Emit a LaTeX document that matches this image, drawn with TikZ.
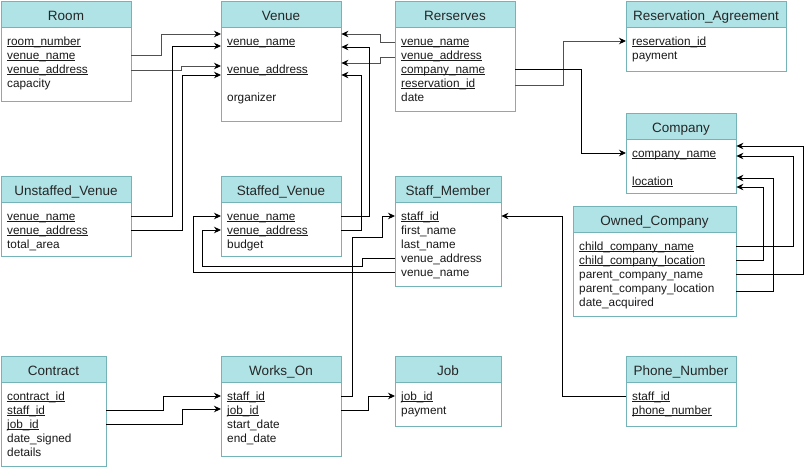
\documentclass[tikz,border=0pt]{standalone}
\usepackage{fontspec}
\setmainfont{Liberation Sans}
\usepackage{tikz}
\usetikzlibrary{%
  arrows.meta%
}
\definecolor{headfill}{HTML}{B0E3E6}
\definecolor{tableline}{HTML}{74B3B8}
\definecolor{linkgray}{HTML}{505050}
\tikzset{
  tablebody/.style={draw=tableline, line width=1pt, fill=white},
  tablehead/.style={draw=tableline, line width=1pt, fill=headfill},
  tabletitle/.style={font=\fontsize{13.5}{16}\selectfont, text=black!85,
    text height=10pt, text depth=3pt},
  field/.style={anchor=west, inner xsep=6pt, inner ysep=1.5pt,
    text width=#1, align=left, text height=9.5pt, text depth=1.5pt,
    font=\fontsize{11.8}{14}\selectfont, text=black!90},
  link/.style={-{Stealth[length=7pt,width=6.5pt,black]}, line width=0.9pt},
}
\newcommand{\ertable}[6]{%
  \draw[tablebody] (#2,#3) rectangle (#4,#5);
  \draw[tablehead] (#2,#3) rectangle (#4,#3+26);
  \node[tabletitle] (#1) at ({(#2+#4)/2},#3+16) {#6};
}
\newcommand{\ul}[1]{\underline{\smash{#1}}}

\begin{document}
\begin{tikzpicture}[x=1pt,y=-1pt]
  \useasboundingbox (0,0) rectangle (812,469);
  % tables
  \ertable{room}{1}{1}{131}{101}{Room}
  \ertable{venue}{221}{1}{341}{121}{Venue}
  \ertable{rerserves}{395}{1}{515}{111}{Rerserves}
  \ertable{agreement}{626}{1}{786}{71}{Reservation\_Agreement}
  \ertable{company}{626}{113}{736}{193}{Company}
  \ertable{unstaffed}{1}{176}{131}{256}{Unstaffed\_Venue}
  \ertable{staffed}{221}{176}{341}{256}{Staffed\_Venue}
  \ertable{staff}{395}{176}{501}{286}{Staff\_Member}
  \ertable{owned}{573}{206}{736}{316}{Owned\_Company}
  \ertable{contract}{1}{356}{106}{466}{Contract}
  \ertable{workson}{221}{356}{341}{456}{Works\_On}
  \ertable{job}{395}{356}{501}{426}{Job}
  \ertable{phone}{626}{356}{736}{426}{Phone\_Number}

  % fields
  \node[field=118pt] (room-rn) at (1,41) {\ul{room\_number}};
  \node[field=118pt] (room-vn) at (1,55) {\ul{venue\_name}};
  \node[field=118pt] (room-va) at (1,69) {\ul{venue\_address}};
  \node[field=118pt] (room-cap) at (1,83) {capacity};

  \node[field=108pt] (venue-vn) at (221,41) {\ul{venue\_name}};
  \node[field=108pt] (venue-va) at (221,69) {\ul{venue\_address}};
  \node[field=108pt] (venue-org) at (221,97) {organizer};

  \node[field=108pt] (rerserves-vn) at (395,41) {\ul{venue\_name}};
  \node[field=108pt] (rerserves-va) at (395,55) {\ul{venue\_address}};
  \node[field=108pt] (rerserves-cn) at (395,69) {\ul{company\_name}};
  \node[field=108pt] (rerserves-rid) at (395,83) {\ul{reservation\_id}};
  \node[field=108pt] (rerserves-date) at (395,97) {date};

  \node[field=148pt] (agreement-rid) at (626,41) {\ul{reservation\_id}};
  \node[field=148pt] (agreement-pay) at (626,55) {payment};

  \node[field=98pt] (company-cn) at (626,153) {\ul{company\_name}};
  \node[field=98pt] (company-loc) at (626,181) {\ul{location}};

  \node[field=118pt] (unstaffed-vn) at (1,216) {\ul{venue\_name}};
  \node[field=118pt] (unstaffed-va) at (1,230) {\ul{venue\_address}};
  \node[field=118pt] (unstaffed-area) at (1,244) {total\_area};

  \node[field=108pt] (staffed-vn) at (221,216) {\ul{venue\_name}};
  \node[field=108pt] (staffed-va) at (221,230) {\ul{venue\_address}};
  \node[field=108pt] (staffed-bud) at (221,244) {budget};

  \node[field=94pt] (staff-sid) at (395,216) {\ul{staff\_id}};
  \node[field=94pt] (staff-fn) at (395,230) {first\_name};
  \node[field=94pt] (staff-ln) at (395,244) {last\_name};
  \node[field=94pt] (staff-va) at (395,258) {venue\_address};
  \node[field=94pt] (staff-vn) at (395,272) {venue\_name};

  \node[field=151pt] (owned-ccn) at (573,246) {\ul{child\_company\_name}};
  \node[field=151pt] (owned-ccl) at (573,260) {\ul{child\_company\_location}};
  \node[field=151pt] (owned-pcn) at (573,274) {parent\_company\_name};
  \node[field=151pt] (owned-pcl) at (573,288) {parent\_company\_location};
  \node[field=151pt] (owned-date) at (573,302) {date\_acquired};

  \node[field=93pt] (contract-cid) at (1,396) {\ul{contract\_id}};
  \node[field=93pt] (contract-sid) at (1,410) {\ul{staff\_id}};
  \node[field=93pt] (contract-jid) at (1,424) {\ul{job\_id}};
  \node[field=93pt] (contract-ds) at (1,438) {date\_signed};
  \node[field=93pt] (contract-det) at (1,452) {details};

  \node[field=108pt] (workson-sid) at (221,396) {\ul{staff\_id}};
  \node[field=108pt] (workson-jid) at (221,410) {\ul{job\_id}};
  \node[field=108pt] (workson-sd) at (221,424) {start\_date};
  \node[field=108pt] (workson-ed) at (221,438) {end\_date};

  \node[field=94pt] (job-jid) at (395,396) {\ul{job\_id}};
  \node[field=94pt] (job-pay) at (395,410) {payment};

  \node[field=98pt] (phone-sid) at (626,396) {\ul{staff\_id}};
  \node[field=98pt] (phone-pn) at (626,410) {\ul{phone\_number}};

  % references into Venue
  \draw[link, draw=linkgray] (room-vn.east) -- ++(30,0) |- ([yshift=7pt]venue-vn.west);
  \draw[link, draw=linkgray] ([yshift=-1pt]room-va.east) -- ++(50,0) |- ([yshift=3pt]venue-va.west);
  \draw[link] (unstaffed-vn.east) -- ++(41,0) |- ([yshift=-5pt]venue-vn.west);
  \draw[link] (unstaffed-va.east) -- ++(51,0) |- ([yshift=-6pt]venue-va.west);
  \draw[link, draw=linkgray] ([yshift=-1pt]rerserves-vn.west) -- ++(-15,0) |- ([yshift=7pt]venue-vn.east);
  \draw[link, draw=linkgray] ([yshift=-2pt]rerserves-va.west) -- ++(-15,0) |- ([yshift=6pt]venue-va.east);
  \draw[link] (staffed-vn.east) -- ++(28,0) |- ([yshift=-6pt]venue-vn.east);
  \draw[link] (staffed-va.east) -- ++(20,0) |- ([yshift=-6pt]venue-va.east);

  % Rerserves
  \draw[link, draw=linkgray] ([yshift=-2pt]rerserves-rid.east) -- ++(48,0) |- (agreement-rid.west);
  \draw[link] (rerserves-cn.east) -- ++(66,0) |- (company-cn.west);

  % Owned_Company into Company
  \draw[link] (owned-ccn.east) -- ++(57,0) |- ([yshift=-3pt]company-cn.east);
  \draw[link] (owned-ccl.east) -- ++(27,0) |- ([yshift=-6pt]company-loc.east);
  \draw[link] (owned-pcn.east) -- ++(67,0) |- ([yshift=7pt]company-cn.east);
  \draw[link] ([yshift=-3pt]owned-pcl.east) -- ++(37,0) |- ([yshift=3pt]company-loc.east);

  % Staff_Member
  \draw[link] (phone-sid.west) -- ++(-64,0) |- (staff-sid.east);
  \draw[link] (staff-va.west) -- ++(-33,0) -- ++(0,8) -| ([xshift=-19pt]staffed-va.west) -- (staffed-va.west);
  \draw[link] (staff-vn.west) -- ++(-202,0) |- (staffed-vn.west);
  \draw[link] (workson-sid.east) -- ++(11,0) -- ++(0,-159) -| ([xshift=-13pt]staff-sid.west) -- (staff-sid.west);

  % Works_On
  \draw[link] (workson-jid.east) -- ++(27,0) |- (job-jid.west);
  \draw[link] (contract-sid.east) -- ++(57,0) |- (workson-sid.west);
  \draw[link] (contract-jid.east) -- ++(76,0) |- ([yshift=1pt]workson-jid.west);
\end{tikzpicture}
\end{document}
